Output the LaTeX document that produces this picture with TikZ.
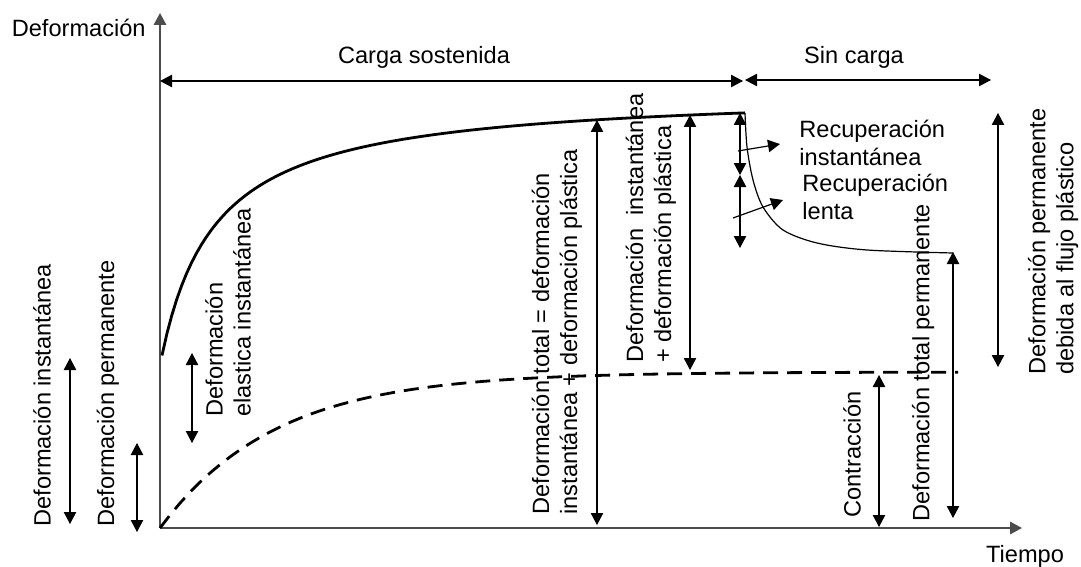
\documentclass[tikz,border=0pt]{standalone}
\usepackage{fontspec}
\setmainfont{Liberation Sans}
\usetikzlibrary{arrows.meta}

\begin{document}
\begin{tikzpicture}[x=0.5pt,y=-0.5pt,
  font=\fontsize{11.8}{14}\selectfont,
  >={Triangle[length=6pt,width=6.2pt]},
  axis/.style={->,black!70,line width=1pt},
  dim/.style={<->,line width=0.6pt},
  curve/.style={line width=1.4pt},
  vlabel/.style={rotate=90,anchor=west,inner sep=0pt,align=left}]
\useasboundingbox (0,0) rectangle (1081,567);

% ejes
\coordinate (O) at (160,528);
\coordinate (ytip) at (160,13);
\coordinate (xtip) at (1022,528);
\draw[axis] (O) -- (ytip);
\draw[axis] (O) -- (xtip);
\node[anchor=east,inner sep=0pt] (ylab) at (146,28) {Deformación};
\node[inner sep=0pt] (xlab) at (1025,556) {Tiempo};

% periodos
\coordinate (c0) at (160,81);
\coordinate (c1) at (743,81);
\coordinate (s0) at (745,80);
\coordinate (s1) at (991,80);
\draw[dim] (c0) -- (c1);
\draw[dim] (s0) -- (s1);
\node[inner sep=0pt] (carga) at (424,57) {Carga sostenida};
\node[inner sep=0pt] (sincarga) at (854,57) {Sin carga};

% curvas
\draw[curve] plot[domain=2:585,samples=120] ({160+\x},{90+14600/(\x+53)});
\draw[line width=0.6pt] plot[smooth] coordinates {(745,113) (747,147) (753,180)
  (763,207) (783,230) (817,243) (867,250) (953,253)};
\draw[curve,dash pattern=on 7.5pt off 4.5pt]
  plot[domain=0:798,samples=80] ({160+\x},{372+156*exp(-\x/115)});

% cotas
\coordinate (a1) at (70,358);   \coordinate (a2) at (70,524);
\coordinate (b1) at (137,443);  \coordinate (b2) at (137,532);
\coordinate (e1) at (192,353);  \coordinate (e2) at (192,443);
\coordinate (t1) at (597,120);  \coordinate (t2) at (597,525);
\coordinate (p1) at (690,115);  \coordinate (p2) at (690,370);
\coordinate (r1) at (740,113);  \coordinate (r2) at (740,175);
\coordinate (r3) at (740,248);
\coordinate (k1) at (879,375);  \coordinate (k2) at (879,527);
\coordinate (q1) at (953,252);  \coordinate (q2) at (953,518);
\coordinate (f1) at (998,113);  \coordinate (f2) at (998,367);
\draw[dim] (a1) -- (a2);
\draw[dim] (b1) -- (b2);
\draw[dim] (e1) -- (e2);
\draw[dim] (t1) -- (t2);
\draw[dim] (p1) -- (p2);
\draw[dim] (r1) -- (r2);
\draw[dim] (r2) -- (r3);
\draw[dim] (k1) -- (k2);
\draw[dim] (q1) -- (q2);
\draw[dim] (f1) -- (f2);

% recuperacion
\coordinate (g1) at (738,151);  \coordinate (g2) at (780,144);
\coordinate (h1) at (733,218);  \coordinate (h2) at (783,200);
\draw[->,line width=0.6pt] (g1) -- (g2);
\draw[->,line width=0.6pt] (h1) -- (h2);
\node[anchor=west,align=left,inner sep=0pt] (recinst) at (799,143) {Recuperación\\instantánea};
\node[anchor=west,align=left,inner sep=0pt] (reclenta) at (802,197) {Recuperación\\lenta};

% textos verticales
\node[vlabel] (inst) at (42,527) {Deformación instantánea};
\node[vlabel] (perm) at (108,527) {Deformación permanente};
\node[vlabel] (elast) at (228,417) {Deformación\\elastica instantánea};
\node[vlabel] (total) at (557,515) {Deformación total = deformación\\instantánea + deformación plástica};
\node[vlabel] (instpl) at (651,363) {Deformación\ \ instantánea\\+ deformación plástica};
\node[vlabel] (contr) at (852,518) {Contracción};
\node[vlabel] (totperm) at (923,522) {Deformación total permanente};
\node[vlabel] (flujo) at (1053,375) {Deformación permanente\\debida al flujo plástico};

\end{tikzpicture}
\end{document}
